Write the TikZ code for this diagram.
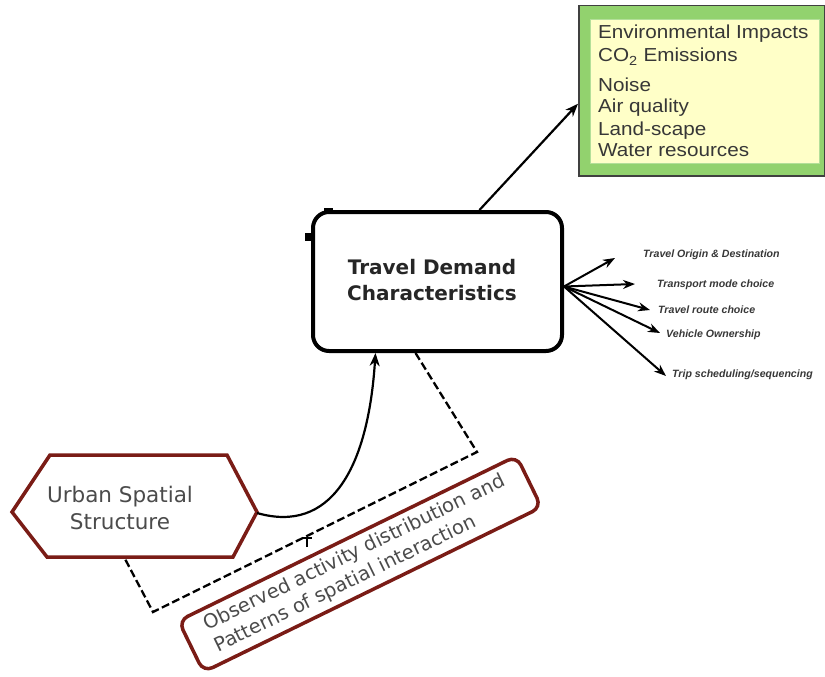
\documentclass[tikz,border=0pt]{standalone}
\usepackage{fontspec}
\setmainfont{Liberation Sans}
\newfontfamily\envfont[FakeStretch=1.1]{Liberation Sans}
\newfontfamily\vfont{DejaVu Sans}
\usetikzlibrary{arrows.meta,calc}

\definecolor{boxred}{RGB}{122,28,22}
\definecolor{envgreen}{RGB}{146,210,110}
\definecolor{envyellow}{RGB}{255,255,200}
\definecolor{txtgray}{RGB}{55,55,55}

\begin{document}
\begin{tikzpicture}[x=1pt,y=-1pt,
  conn/.style={line width=2.2pt,-{Stealth[length=13pt,width=10pt]}},
  small conn/.style={line width=2pt,-{Stealth[length=12pt,width=9pt]}},
  dash line/.style={line width=2.3pt,dash pattern=on 8pt off 3.5pt},
  envline/.style={inner sep=0pt,anchor=base west,text=txtgray,font=\fontsize{18.8}{22}\envfont},
  outlabel/.style={inner sep=0pt,anchor=west,text=txtgray,font=\fontsize{10.6}{12}\selectfont\bfseries\itshape}]
\useasboundingbox (0,0) rectangle (825,677);

% environmental impacts box
\node[fill=envgreen,draw=black!75,line width=1.5pt,minimum width=246pt,minimum height=170pt,
      anchor=north west,inner sep=0pt] (env) at (578,5) {};
\node[fill=envyellow,draw=envgreen!70!white,line width=0.8pt,minimum width=229pt,minimum height=144pt,
      anchor=north west,inner sep=0pt] (envin) at (590,19) {};
\node[envline] (e1) at (598,39) {Environmental Impacts};
\node[envline] (e2) at (598,62) {CO\textsubscript{2} Emissions};
\node[envline] (e3) at (598,92) {Noise};
\node[envline] (e4) at (598,113) {Air quality};
\node[envline] (e5) at (598,135) {Land-scape};
\node[envline] (e6) at (598,156) {Water resources};

% central box
\node[draw,line width=4pt,rounded corners=16pt,minimum width=249pt,minimum height=139pt,inner sep=0pt]
  (tdc) at (437.5,281.5) {};
\node[align=center,text=black!85,font=\fontsize{20}{26}\vfont\bfseries] (tdct) at (432,280)
  {Travel Demand\\Characteristics};
\fill (324,207.5) rectangle (333,214);
\fill (305,233) rectangle (311,241);

% outgoing characteristics
\coordinate (fan) at ($(tdc.east)+(0,5)$);
\node[outlabel] (l1) at (643,255) {Travel Origin \& Destination};
\node[outlabel] (l2) at (657,285) {Transport mode choice};
\node[outlabel] (l3) at (658,310) {Travel route choice};
\node[outlabel] (l4) at (666,335) {Vehicle Ownership};
\node[outlabel] (l5) at (672,375) {Trip scheduling/sequencing};
\draw[small conn] (fan) -- ($(l1.west)+(-28,3)$);
\draw[small conn] (fan) -- ($(l2.west)+(-22,-1)$);
\draw[small conn] (fan) -- ($(l3.west)+(-8,0)$);
\draw[small conn] (fan) -- ($(l4.west)+(-6,-2)$);
\draw[small conn] (fan) -- ($(l5.west)+(-6,1)$);

% link to environmental impacts
\draw[conn] ($(tdc.north)+(42,0)$) -- ($(env.west)+(0,13)$);

% urban spatial structure
\draw[boxred,line width=3.5pt,line join=miter,fill=white]
  (12,512) -- (50,455) -- (227,455) -- (257,512) -- (233,557) -- (47,557) -- cycle;
\coordinate (hexE) at (257,513);
\coordinate (hexS) at (124,557);
\node[align=center,text=txtgray!90,font=\fontsize{21.5}{27}\vfont] (uss) at (120,508)
  {Urban Spatial\\Structure};

\draw[conn] (hexE) .. controls (330,534) and (368,470) .. ($(tdc.south)+(-62,0)$);

% feedback loop
\coordinate (dA) at (477,452);
\coordinate (dB) at (153,612);
\draw[dash line,line join=miter] ($(tdc.south)+(-22,0)$) -- (dA) -- (dB) -- (hexS);

% observed interaction box
\node[draw=boxred,line width=3.5pt,rounded corners=10pt,rotate=26,minimum width=376pt,
      minimum height=57pt,inner sep=0pt,align=left,text=txtgray!90,
      font=\fontsize{19.5}{24}\vfont] (obs) at (360,564)
  {Observed activity distribution and\\Patterns of spatial interaction};
\coordinate (tickB) at (307,547);
\coordinate (tickT) at (307,537);
\draw[line width=1.5pt,-{Bar[width=9pt]}] (tickB) -- (tickT);
\end{tikzpicture}
\end{document}
